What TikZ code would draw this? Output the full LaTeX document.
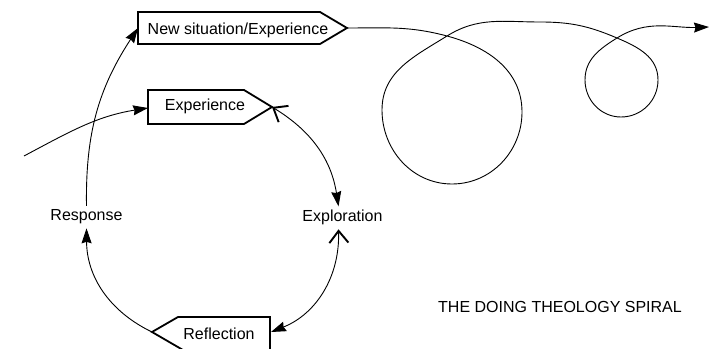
\documentclass[tikz,border=0pt]{standalone}
\usepackage{fontspec}
\setmainfont{Liberation Sans}
\usetikzlibrary{arrows.meta}
\tikzset{
  lbl/.style={font=\fontsize{16}{19}\selectfont, inner sep=0pt, outer sep=4pt, anchor=base},
  boxline/.style={line width=1.8pt, line join=miter},
  conn/.style={line width=0.9pt},
  fillarr/.style={-{Stealth[length=15pt,width=10pt,inset=1.5pt]}},
  dblarr/.style={{Straight Barb[length=12pt,width=19pt,line width=1.9pt]}-{Stealth[length=15pt,width=10pt,inset=1.5pt]}}
}
\begin{document}
\begin{tikzpicture}[x=1pt,y=1pt]
\useasboundingbox (0,0) rectangle (709,348);

% box outlines
\draw[boxline] (138,336) -- (320,336) -- (347,320) -- (320,304) -- (138,304) -- cycle;
\draw[boxline] (148,258) -- (244,258) -- (272,241) -- (244,224) -- (148,224) -- cycle;
\draw[boxline] (270,-3) -- (270,31) -- (178,31) -- (152,16) -- (183,-2);

% labels
\node[lbl] (ns) at (238,313) {New situation/Experience};
\node[lbl] (ex) at (205,237) {Experience};
\node[lbl] (resp) at (86.5,127) {Response};
\node[lbl] (expl) at (342.5,126) {Exploration};
\node[lbl] (refl) at (219,9) {Reflection};
\node[lbl] (title) at (560,35) {THE DOING THEOLOGY SPIRAL};

% anchor points on boxes
\coordinate (nsL) at (138,320);
\coordinate (nsT) at (347,320);
\coordinate (exL) at (148,240);
\coordinate (exT) at (272,241);
\coordinate (rfT) at (152,16);
\coordinate (rfR) at (271,16);
\coordinate (start) at (24,192);
\coordinate (c1) at (447,312);
\coordinate (c2) at (617,310);
\coordinate (finish) at (709,321);

% cycle
\draw[conn, dblarr] (exT) to[bend left=25] ([xshift=-4pt]expl.north);
\draw[conn, dblarr] ([xshift=-4pt]expl.south) to[bend left=35] (rfR);
\draw[conn, fillarr] (rfT) to[bend left=32] (resp.south);
\draw[conn, fillarr] (resp.north) to[bend left=17] (nsL);
\draw[conn, fillarr] (start) to[out=28,in=189] (exL);

% spiral
\draw[conn, fillarr] (nsT) to[out=0,in=165] (c1)
  to[out=-15,in=90] (522,236) to[out=-90,in=0] (452,164)
  to[out=180,in=-90] (382,238) to[out=90,in=212] (c1)
  to[out=32,in=180] (540,326) to[out=0,in=157] (c2)
  to[out=-23,in=90] (658,268) to[out=-90,in=0] (621,231)
  to[out=180,in=-90] (585,268) to[out=90,in=212] (c2)
  to[out=32,in=182] (finish);
\end{tikzpicture}
\end{document}
